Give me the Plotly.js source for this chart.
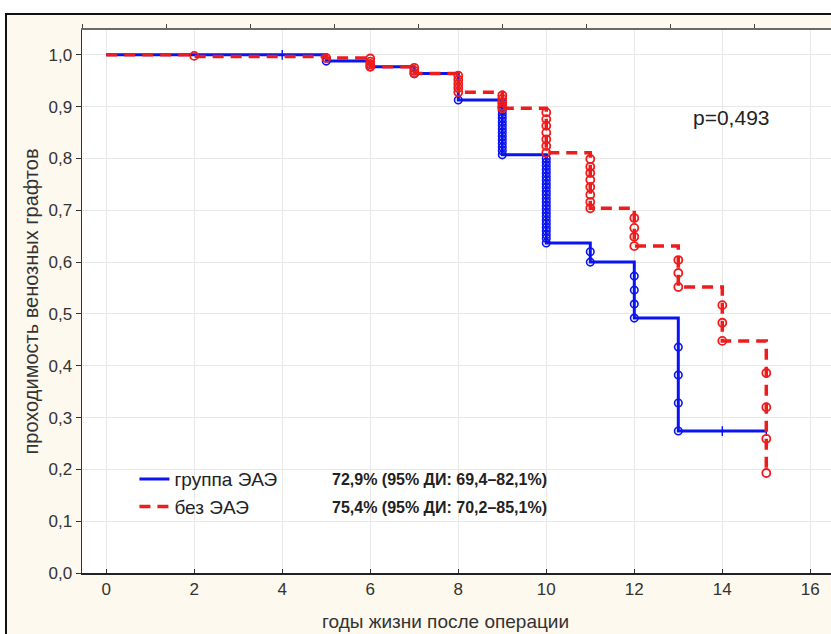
<!DOCTYPE html>
<html>
<head>
<meta charset="utf-8">
<script src="https://cdn.plot.ly/plotly-3.0.1.min.js"></script>
<style>
  html, body { margin:0; padding:0; background:#ffffff; overflow:hidden; }
  #frame { position:absolute; left:5px; top:13px; width:900px; height:700px;
           border:2px solid #111; background:#fdf9ee; box-sizing:border-box; }
  #chart { position:absolute; left:0; top:0; width:831px; height:634px; }
</style>
</head>
<body>
<div id="frame"></div>
<div id="chart"></div>
<script>
// ---- Kaplan–Meier step curves (years, survival) ----
const stepTimesEAE   = [0, 5, 6, 7, 8, 9, 10, 11, 12, 13, 15];
const survivalEAE    = [1.0, 0.988, 0.977, 0.964, 0.913, 0.807, 0.637, 0.600, 0.492, 0.274, 0.274];
const stepTimesNoEAE = [0, 2, 5, 6, 7, 8, 9, 10, 11, 12, 13, 14, 15];
const survivalNoEAE  = [1.0, 0.997, 0.994, 0.977, 0.964, 0.928, 0.897, 0.811, 0.704, 0.631, 0.552, 0.448, 0.193];

// ---- event (complete) observations shown as circles ----
const eventTimesEAE = [5, 6, 7, 8,
  9,9,9,9,9,9,9,9,9,9,9,9,9,9,9,
  10,10,10,10,10,10,10,10,10,10,10,10,10,10,10,10,10,10,10,10,10,10,10,10,
  11,11, 12,12,12,12, 13,13,13,13];
const eventSurvEAE = [0.988, 0.977, 0.964, 0.913,
  0.906,0.899,0.892,0.885,0.878,0.871,0.864,0.857,0.850,0.843,0.836,0.829,0.822,0.815,0.807,
  0.800,0.793,0.786,0.779,0.772,0.765,0.758,0.751,0.744,0.737,0.730,0.723,0.716,0.709,0.702,0.695,0.688,0.681,0.674,0.667,0.660,0.653,0.646,0.637,
  0.620,0.600, 0.573,0.546,0.519,0.492, 0.436,0.382,0.328,0.274];

const eventTimesNoEAE = [2, 5, 6,6,6,6, 7,7,7, 8,8,8,8,8, 9,9,9,9,9,
  10,10,10,10,10,10,10, 11,11,11,11,11,11,11,11, 12,12,12,12, 13,13,13, 14,14,14, 15,15,15,15];
const eventSurvNoEAE = [0.998, 0.994, 0.993,0.987,0.982,0.977, 0.975,0.969,0.964,
  0.960,0.952,0.944,0.936,0.928, 0.922,0.915,0.908,0.901,0.897,
  0.889,0.876,0.863,0.850,0.837,0.824,0.811,
  0.799,0.784,0.772,0.759,0.745,0.730,0.716,0.704,
  0.685,0.666,0.649,0.631, 0.604,0.579,0.552, 0.517,0.483,0.448,
  0.386,0.320,0.259,0.193];

// ---- censored observations ----
const censTimesEAE = [4, 14, 15];
const censSurvEAE  = [1.0, 0.274, 0.274];

// ---- labels ----
const seriesNames = ['группа ЭАЭ', 'без ЭАЭ'];
const ciLabels = ['72,9% (95% ДИ: 69,4–82,1%)', '75,4% (95% ДИ: 70,2–85,1%)'];
const pLabel = 'p=0,493';
const xTitle = 'годы жизни после операции';
const yTitle = 'проходимость венозных графтов';
const xTickVals = [0, 2, 4, 6, 8, 10, 12, 14, 16];

const BLUE = '#0a14f0';
const RED = '#ee1c1c';
const FONT = 'Liberation Sans, Arial, sans-serif';
const NARROW = 'Liberation Sans Narrow, Liberation Sans, Arial, sans-serif';

const traces = [
  { x: stepTimesEAE, y: survivalEAE, mode: 'lines', line: {shape: 'hv', color: BLUE, width: 3},
    name: seriesNames[0], hoverinfo: 'skip' },
  { x: eventTimesEAE, y: eventSurvEAE, mode: 'markers', showlegend: false, hoverinfo: 'skip',
    marker: {symbol: 'circle-open', size: 7.5, color: BLUE, line: {width: 1.6, color: BLUE}} },
  { x: censTimesEAE, y: censSurvEAE, mode: 'markers', showlegend: false, hoverinfo: 'skip',
    marker: {symbol: 'line-ns-open', size: 7, color: BLUE, line: {width: 1.4, color: BLUE}} },
  { x: stepTimesNoEAE, y: survivalNoEAE, mode: 'lines', line: {shape: 'hv', color: RED, width: 3.5, dash: '11px,7px'},
    name: seriesNames[1], hoverinfo: 'skip' },
  { x: eventTimesNoEAE, y: eventSurvNoEAE, mode: 'markers', showlegend: false, hoverinfo: 'skip',
    marker: {symbol: 'circle-open', size: 8, color: RED, line: {width: 1.8, color: RED}} },
  { x: [], y: [], xaxis: 'x2', showlegend: false, hoverinfo: 'skip', mode: 'markers' }
];

const layout = {
  width: 831, height: 634,
  margin: {l: 82, r: 0, t: 30, b: 61, pad: 0},
  paper_bgcolor: 'rgba(0,0,0,0)',
  plot_bgcolor: '#ffffff',
  separators: ', ',
  font: {family: FONT, color: '#222', size: 15},
  showlegend: true,
  legend: {x: 0.07, y: 0.208, xanchor: 'left', yanchor: 'top', bgcolor: 'rgba(0,0,0,0)',
           font: {family: FONT, size: 19, color: '#222'}, itemwidth: 30, tracegroupgap: 0},
  xaxis: {
    range: [-0.55, 16.47], tickvals: xTickVals, ticks: 'inside', ticklen: 4, tickcolor: '#333',
    showline: true, linecolor: '#222', linewidth: 1.5, mirror: false,
    showgrid: true, gridcolor: '#e8e8e8', gridwidth: 1, zeroline: false,
    tickfont: {family: NARROW, size: 17, color: '#333'}
  },
  xaxis2: {
    overlaying: 'x', side: 'top', range: [0, 749], tick0: 0, dtick: 84.1,
    showticklabels: false, ticks: 'outside', ticklen: 4, tickcolor: '#444',
    showline: true, linecolor: '#6a6a6a', linewidth: 2.5, showgrid: false, zeroline: false
  },
  yaxis: {
    range: [0, 1.048], dtick: 0.1, tick0: 0, tickformat: '.1f', ticks: 'outside', ticklen: 5, tickcolor: '#333',
    showline: true, linecolor: '#333', linewidth: 1.5,
    showgrid: true, gridcolor: '#e8e8e8', gridwidth: 1, zeroline: false,
    tickfont: {family: FONT, size: 17, color: '#333'},
    title: {text: yTitle, font: {family: FONT, size: 20, color: '#333'}, standoff: 4}
  },
  annotations: [
    {xref: 'paper', yref: 'paper', x: 0.4847, y: -0.09, xanchor: 'center', yanchor: 'middle', showarrow: false,
     text: xTitle, font: {family: NARROW, size: 19, color: '#333'}},
    {xref: 'paper', yref: 'paper', x: 0.331, y: 0.1713, xanchor: 'left', yanchor: 'middle', showarrow: false,
     text: '<b>' + ciLabels[0] + '</b>', font: {family: FONT, size: 16, color: '#222'}},
    {xref: 'paper', yref: 'paper', x: 0.331, y: 0.1215, xanchor: 'left', yanchor: 'middle', showarrow: false,
     text: '<b>' + ciLabels[1] + '</b>', font: {family: FONT, size: 16, color: '#222'}},
    {xref: 'paper', yref: 'paper', x: 0.813, y: 0.838, xanchor: 'left', yanchor: 'middle', showarrow: false,
     text: pLabel, font: {family: FONT, size: 21, color: '#222'}}
  ]
};

Plotly.newPlot('chart', traces, layout, {staticPlot: true, displayModeBar: false});
</script>
</body>
</html>
